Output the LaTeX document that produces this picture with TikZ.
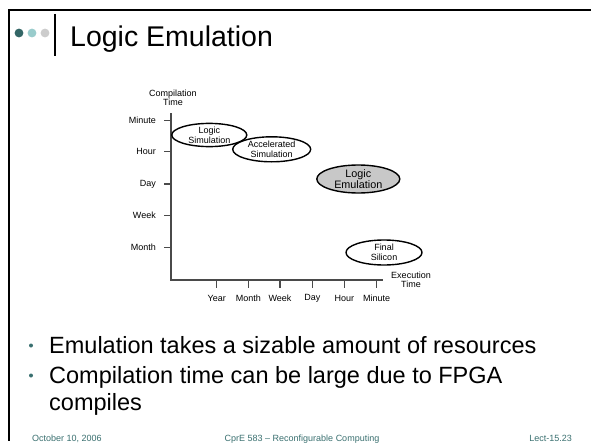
\documentclass[tikz,border=0pt]{standalone}
\usepackage{fontspec}
\setmainfont{Liberation Sans}
\usetikzlibrary{shapes.geometric}
\definecolor{footteal}{HTML}{3A7070}
\definecolor{dotdark}{HTML}{336666}
\definecolor{dotmid}{HTML}{99CCCC}
\definecolor{dotlight}{HTML}{CCCCCC}
\definecolor{axisgrey}{HTML}{4A4A4A}
\definecolor{emufill}{HTML}{C8C8C8}
\tikzset{
  x=1pt, y=-1pt,
  small/.style={font=\fontsize{9}{9.5}\selectfont, inner sep=0pt, align=center},
  axislabel/.style={small},
  bubble/.style={ellipse, draw=black, line width=1.4pt, inner sep=0pt,
    font=\fontsize{9}{9.8}\selectfont, align=center},
  bullettext/.style={font=\fontsize{23.5}{27}\selectfont, inner sep=0pt, anchor=base west},
  footer/.style={font=\fontsize{9}{10}\selectfont, text=footteal, inner sep=0pt},
  axisline/.style={draw=axisgrey, line width=1.6pt},
}
\begin{document}
\begin{tikzpicture}
\useasboundingbox (0,0) rectangle (591,444);
\fill[white] (0,0) rectangle (591,444);

% slide frame
\draw[line width=2.5pt] (8,10) -- (591,10);
\draw[line width=2pt] (9,10) -- (9,441);

% title decoration and title
\fill[dotdark]  (19,33) circle (4.4);
\fill[dotmid]   (32,33) circle (4.4);
\fill[dotlight] (45,33) circle (4.4);
\draw[line width=1.5pt] (55,14) -- (55,56);
\node[font=\fontsize{28.5}{32}\selectfont, inner sep=0pt, anchor=base west] (title) at (70,46) {Logic Emulation};

% axes
\coordinate (ytop) at (171,113);
\coordinate (origin) at (171,280);
\coordinate (xend) at (383,280);
\draw[axisline] (ytop) -- (origin) -- (xend);

\node[axislabel] (ycap) at (173,98) {Compilation\\Time};
\node[axislabel] (xcap) at (411,280) {Execution\\Time};

% compilation time scale
\foreach \lab/\yy in {Minute/120.7, Hour/151.7, Day/184, Week/215.7, Month/247.7}{
  \draw[axisgrey, line width=1.3pt] (164,\yy) -- (171,\yy);
  \node[axislabel, anchor=east] (y\lab) at (156,\yy) {\lab};
}
% execution time scale
\foreach \lab/\xx in {Year/216.7, Month/248.3, Week/280, Day/312.3, Hour/344.3, Minute/376.7}{
  \draw[axisgrey, line width=1.3pt] (\xx,280) -- (\xx,288);
  \node[axislabel] (x\lab) at (\xx,298) {\lab};
}

% technologies
\node[bubble, minimum width=75pt, minimum height=23pt] (logicsim) at (209.3,135) {Logic\\Simulation};
\node[bubble, minimum width=78pt, minimum height=25pt] (accsim) at (271.7,149.3) {Accelerated\\Simulation};
\node[bubble, fill=emufill, minimum width=83pt, minimum height=28pt,
      font=\fontsize{10.8}{11}\selectfont] (logicemu) at (358.3,179) {Logic\\Emulation};
\node[bubble, minimum width=76pt, minimum height=25pt] (silicon) at (384,252.5) {Final\\Silicon};

% bullet points
\fill[footteal] (31,345.5) circle (2);
\fill[footteal] (31,375.5) circle (2);
\node[bullettext] (b1) at (49,353.3) {Emulation takes a sizable amount of resources};
\node[bullettext] (b2) at (49,383.3) {Compilation time can be large due to FPGA};
\node[bullettext] (b3) at (49,410.3) {compiles};

% footer
\node[footer, anchor=base west] (fdate) at (32,441) {October 10, 2006};
\node[footer, anchor=base] (fcourse) at (302,441) {CprE 583 – Reconfigurable Computing};
\node[footer, anchor=base east] (flect) at (572,441) {Lect-15.23};
\end{tikzpicture}
\end{document}
